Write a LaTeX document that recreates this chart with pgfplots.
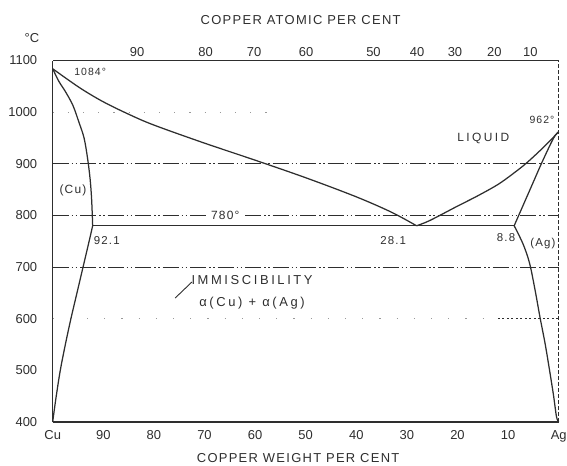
\documentclass[border=0pt]{standalone}
\usepackage{pgfplots}
\pgfplotsset{compat=1.18}
\usepackage{fontspec}
\setmainfont{Liberation Sans}
\newfontfamily\spaced[LetterSpace=10]{Liberation Sans}
\newfontfamily\wide[LetterSpace=20]{Liberation Sans}

\definecolor{ink}{gray}{0.18}
\definecolor{faint}{gray}{0.6}

% Cu--Ag phase diagram: temperature (deg C) against copper weight per cent
\pgfplotsset{
  phaseframe/.style={
    scale only axis, width=506bp, height=361.5bp,
    xmin=0, xmax=100, ymin=400, ymax=1100,
    x dir=reverse,
    major tick length=0pt,
    axis line style={ink, line width=1.1bp},
    tick label style={font=\fontsize{13}{15}\selectfont, text=ink},
  },
  phase/.style={ink, line width=1.25bp, smooth, tension=0.55},
  isotherm/.style={ink, line width=0.9bp,
    dash pattern=on 16bp off 3bp on 1.5bp off 2.5bp on 1.5bp off 3bp},
}

\begin{document}
\begin{tikzpicture}
% weight scale, temperature scale and the phase boundaries
\begin{axis}[
  phaseframe,
  axis x line*=bottom, axis y line*=left,
  xtick={0,10,...,100},
  xticklabels={Ag,10,20,30,40,50,60,70,80,90,Cu},
  xticklabel style={yshift=-5bp},
  ytick={400,500,...,1100},
  yticklabels={400,500,600,700,800,900,1000,1100},
  yticklabel style={xshift=-12bp},
  clip=false,
]
% faint guide dots
\addplot[faint, line width=0.8bp, dash pattern=on 1.2bp off 14bp] coordinates {(100,1000) (55,1000)};
\addplot[faint, line width=0.8bp, dash pattern=on 1.2bp off 16bp] coordinates {(100,600) (12,600)};
\addplot[ink, line width=0.9bp, dash pattern=on 2bp off 2.5bp] coordinates {(12,600) (0,600)};

% isotherms
\addplot[isotherm] coordinates {(100,900) (0,900)};
\addplot[isotherm] coordinates {(100,800) (0,800)};
\addplot[isotherm] coordinates {(100,700) (0,700)};

% Ag side of the frame
\addplot[ink, line width=1bp, dash pattern=on 4bp off 2bp] coordinates {(0,400) (0,1100)};

% liquidus, Cu side
\addplot[phase] coordinates {
  (100,1084) (97,1063) (94,1043) (90,1020) (85,996) (80,975)
  (70,940) (60,907) (50,873) (40,836) (33,806) (28.1,780)};
% liquidus, Ag side
\addplot[phase] coordinates {
  (28.1,780) (25.5,790) (20.2,817) (16,838) (12,860) (9,881)
  (6.3,902) (3,932) (0,962)};
% solidus of (Cu)
\addplot[phase] coordinates {
  (100,1084) (98.8,1060) (97.5,1040) (96.0,1013) (94.8,980) (93.8,950)
  (93.1,910) (92.6,870) (92.3,830) (92.1,780)};
% solvus of (Cu)
\addplot[phase] coordinates {
  (92.1,780) (92.8,750) (94.0,700) (95.2,650) (96.4,600) (97.5,550)
  (98.5,500) (99.3,450) (99.8,415) (100,400)};
% solidus of (Ag)
\addplot[phase] coordinates {
  (0,962) (1.0,950) (3.2,905) (5.4,856) (8.8,780)};
% solvus of (Ag)
\addplot[phase] coordinates {
  (8.8,780) (7.06,745) (5.77,708) (4.68,656) (3.70,603) (2.71,553)
  (1.82,501) (1.03,452) (0.43,410) (0,400)};
% eutectic line
\addplot[ink, line width=1.25bp] coordinates {(92.1,780) (8.8,780)};
% leader to the two-phase field
\addplot[ink, line width=0.9bp] coordinates {(75.8,640) (72.5,671)};

% labels
\begin{scope}[every node/.style={text=ink, inner sep=1bp}]
\node[font=\fontsize{13}{15}\selectfont] at (axis cs:104.1,1143.6) {°C};
\node[font=\spaced\fontsize{10.5}{12}\selectfont] at (axis cs:92.6,1078) {1084°};
\node[font=\spaced\fontsize{10.5}{12}\selectfont] at (axis cs:3.3,985) {962°};
\node[font=\wide\fontsize{12}{14}\selectfont] at (axis cs:14.9,950) {LIQUID};
\node[font=\spaced\fontsize{12}{14}\selectfont] at (axis cs:96.0,849) {(Cu)};
\node[font=\spaced\fontsize{12}{14}\selectfont, fill=white, inner xsep=3bp] at (axis cs:65.9,801) {780°};
\node[font=\spaced\fontsize{11.5}{14}\selectfont] at (axis cs:89.3,752) {92.1};
\node[font=\spaced\fontsize{11.5}{14}\selectfont] at (axis cs:32.7,752) {28.1};
\node[font=\spaced\fontsize{11.5}{14}\selectfont] at (axis cs:10.4,758) {8.8};
\node[font=\spaced\fontsize{11.5}{14}\selectfont] at (axis cs:3.1,746) {(Ag)};
\node[font=\wide\fontsize{13}{15}\selectfont] at (axis cs:60.6,675) {IMMISCIBILITY};
\node[font=\wide\fontsize{13}{15}\selectfont] at (axis cs:60.6,631) {α(Cu) + α(Ag)};
\node[font=\spaced\fontsize{13}{15}\selectfont] at (rel axis cs:0.485,-0.0996) {COPPER WEIGHT PER CENT};
\node[font=\spaced\fontsize{13}{15}\selectfont] at (rel axis cs:0.49,1.112) {COPPER ATOMIC PER CENT};
\end{scope}
\end{axis}

% atomic per cent scale along the top edge
\begin{axis}[
  phaseframe,
  axis x line*=top, axis y line=none,
  xtick={5.6,12.7,20.5,28.0,36.6,49.9,60.2,69.8,83.3},
  xticklabels={10,20,30,40,50,60,70,80,90},
  xticklabel style={yshift=0bp},
]
\addplot[draw=none] coordinates {(50,700)};
\end{axis}

\pgfresetboundingbox
\useasboundingbox (-52.7bp,-44bp) rectangle (514.3bp,422bp);
\end{tikzpicture}
\end{document}
